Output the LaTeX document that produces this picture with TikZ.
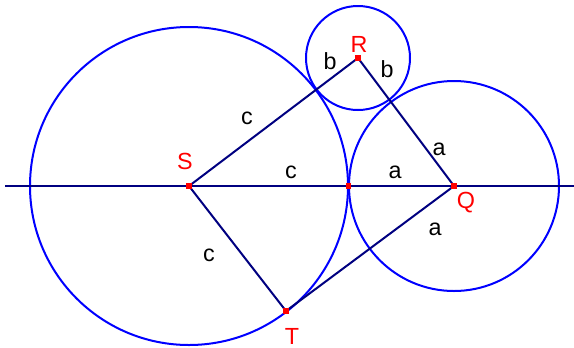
\documentclass[tikz,border=0pt]{standalone}
\usepackage{fontspec}
\setmainfont{Liberation Sans}
\begin{document}
\begin{tikzpicture}[x=0.75pt,y=-0.75pt,
  circ/.style={draw=blue, line width=1.5pt},
  seg/.style={draw={rgb,255:red,0;green,0;blue,128}, line width=1.5pt},
  pt/.style={fill=red, minimum size=3.8pt, inner sep=0pt, outer sep=0pt, draw=none, rectangle},
  lab/.style={font=\fontsize{17.5}{20}\selectfont, inner sep=0pt},
  rlab/.style={lab, text=red}]
\useasboundingbox (0,0) rectangle (574,347);
\coordinate (L) at (5,186);
\coordinate (E) at (574,186);
\coordinate (S) at (189,186);
\coordinate (Q) at (454,186);
\coordinate (R) at (358,58);
\coordinate (T) at (286,311);
\coordinate (P) at (348.5,186);
\draw[circ] (S) circle[radius=159];
\draw[circ] (Q) circle[radius=105];
\draw[circ] (R) circle[radius=52];
\draw[seg] (L) -- (E);
\draw[seg] (S) -- (R) -- (Q);
\draw[seg] (S) -- (T) -- (Q);
\node[pt] (nS) at (S) {};
\node[pt] (nQ) at (Q) {};
\node[pt] (nR) at (R) {};
\node[pt] (nT) at (T) {};
\node[pt] (nP) at (P) {};
\node[rlab] (lS) at (185,161.5) {S};
\node[rlab] (lR) at (359,44) {R};
\node[rlab] (lQ) at (466,203) {Q};
\node[rlab] (lT) at (292,336) {T};
\node[lab] (c1) at (247,118) {c};
\node[lab] (c2) at (209,255) {c};
\node[lab] (c3) at (291,172) {c};
\node[lab] (a1) at (395,172) {a};
\node[lab] (a2) at (439,149) {a};
\node[lab] (a3) at (435,229) {a};
\node[lab] (b1) at (330,61) {b};
\node[lab] (b2) at (387,69.5) {b};
\end{tikzpicture}
\end{document}
